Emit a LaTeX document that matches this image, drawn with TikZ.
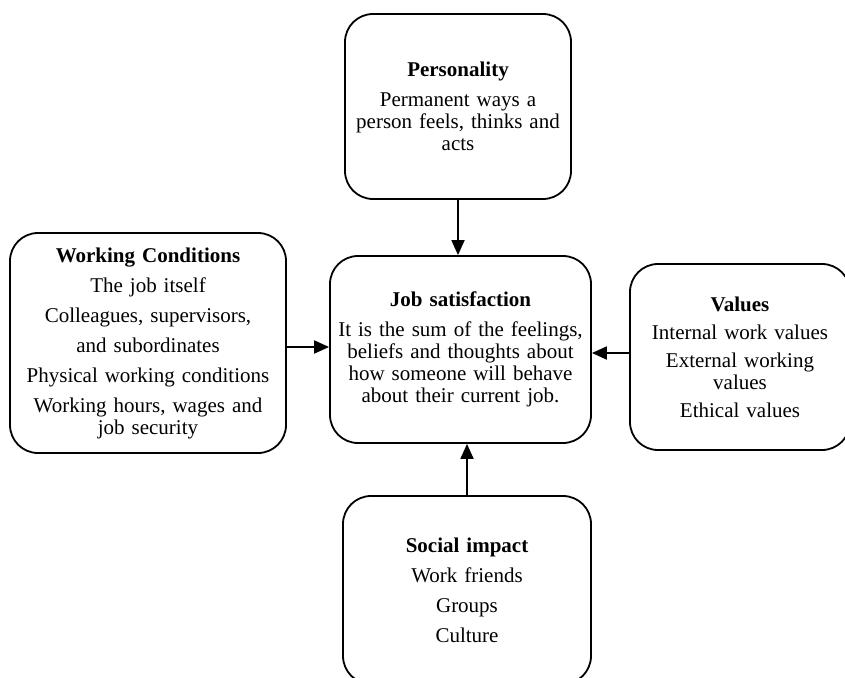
\documentclass[tikz,border=0pt]{standalone}
\usepackage{fontspec}
\setmainfont{Liberation Serif}
\usetikzlibrary{arrows.meta}

\tikzset{
  factor/.style={draw, line width=1.8pt, rounded corners=28pt, align=center,
    inner sep=0pt, font=\fontsize{21}{22}\selectfont},
  link/.style={line width=1.8pt, -{Triangle[length=15pt,width=13pt]}}
}

\begin{document}
\begin{tikzpicture}[x=1pt,y=-1pt]
    \useasboundingbox (0,0) rectangle (845,677);

    % Central box
    \node[factor, minimum width=261pt, minimum height=187pt, text width=250pt]
      (js) at (460.5,349.5)
      {\textbf{Job satisfaction}\\[8pt]
       It is the sum of the feelings,\\ beliefs and thoughts about\\
       how someone will behave\\ about their current job.};

    % Influencing factors
    \node[factor, minimum width=226pt, minimum height=185pt, text width=214pt]
      (pers) at (458,106.5)
      {\textbf{Personality}\\[8pt]
       Permanent ways a\\ person feels, thinks and\\ acts};
    \node[factor, minimum width=276pt, minimum height=220pt, text width=266pt]
      (wc) at (148,343)
      {\textbf{Working Conditions}\\[8pt]
       The job itself\\[8pt]
       Colleagues, supervisors,\\[8pt]
       and subordinates\\[8pt]
       Physical working conditions\\[8pt]
       Working hours, wages and\\ job security};
    \node[factor, minimum width=220pt, minimum height=186pt, text width=210pt]
      (vals) at (740,357)
      {\textbf{Values}\\[6pt]
       Internal work values\\[6pt]
       External working\\ values\\[6pt]
       Ethical values};
    \node[factor, minimum width=248pt, minimum height=188pt, text width=236pt]
      (soc) at (467,590)
      {\textbf{Social impact}\\[8pt]
       Work friends\\[8pt]
       Groups\\[8pt]
       Culture};

    % Arrows into the centre
    \draw[link] (pers.south) -- (pers.south |- js.north);
    \draw[link] (soc.north) -- (soc.north |- js.south);
    \draw[link] ([yshift=-4pt]wc.east) -- ([yshift=-4pt]wc.east -| js.west);
    \draw[link] ([yshift=4pt]vals.west) -- ([yshift=4pt]vals.west -| js.east);
  \end{tikzpicture}
\end{document}
